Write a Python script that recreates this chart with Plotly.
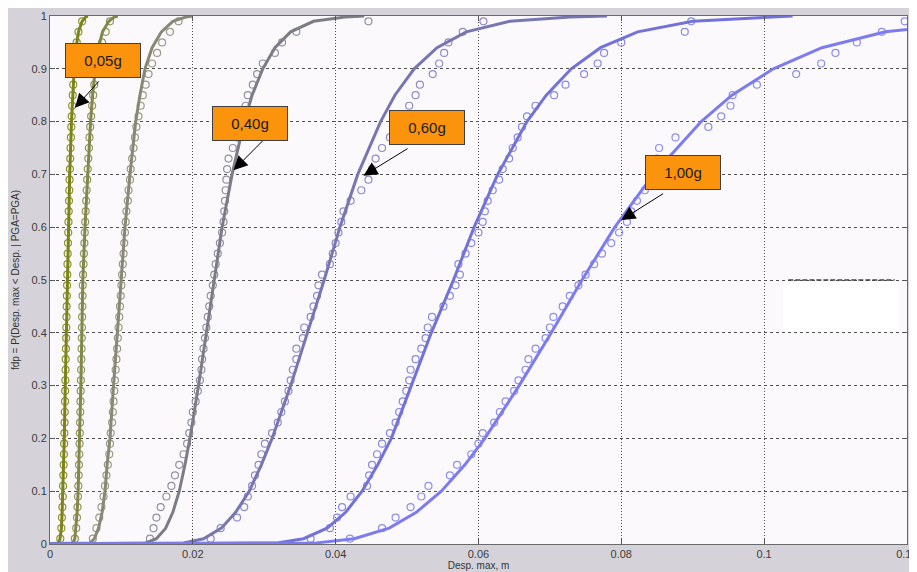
import plotly.graph_objects as go

# ---------------- data ----------------
# probability levels of the fitted CDF lines
P_LINE = [0, 0.002, 0.01, 0.03, 0.06, 0.1, 0.15, 0.2, 0.3, 0.4, 0.5,
          0.6, 0.7, 0.8, 0.85, 0.9, 0.94, 0.97, 0.99, 0.998, 1.0]

# fitted CDF lines: displacement (m) at each level of P_LINE
LINE_005 = [0, 0.0012, 0.0014, 0.0016, 0.0017, 0.0018, 0.0019, 0.0020, 0.00214, 0.00227, 0.0024,
            0.00257, 0.00276, 0.00301, 0.00318, 0.00339, 0.00365, 0.00399, 0.0045, 0.0050, 0.0053]
LINE_010 = [0, 0.0032, 0.00348, 0.00365, 0.0038, 0.00394, 0.00405, 0.00416, 0.00432, 0.00446, 0.0046,
            0.0049, 0.00524, 0.00568, 0.00597, 0.00634, 0.00678, 0.00736, 0.00823, 0.0090, 0.0095]
LINE_020 = [0, 0.0056, 0.0062, 0.0068, 0.0073, 0.0077, 0.0080, 0.0084, 0.0089, 0.0094, 0.0099,
            0.0105, 0.0112, 0.0120, 0.0126, 0.0133, 0.0143, 0.0156, 0.0172, 0.0190, 0.0200]
LINE_040 = [0, 0.0134, 0.0149, 0.0162, 0.0172, 0.0181, 0.0189, 0.0196, 0.0208, 0.0219, 0.0229,
            0.0241, 0.0255, 0.0272, 0.0283, 0.0298, 0.0315, 0.0337, 0.0369, 0.0413, 0.0440]
LINE_060 = [0, 0.0187, 0.0215, 0.0240, 0.0260, 0.0279, 0.0296, 0.0311, 0.0337, 0.0361, 0.0384,
            0.0406, 0.0431, 0.0463, 0.0483, 0.0510, 0.0542, 0.0583, 0.0644, 0.0728, 0.0780]
LINE_080 = [0, 0.0318, 0.0355, 0.0388, 0.0414, 0.0437, 0.0459, 0.0478, 0.0506, 0.0534, 0.0565,
            0.0594, 0.0627, 0.0668, 0.0695, 0.0730, 0.0771, 0.0823, 0.0900, 0.1005, 0.1040]
LINE_100 = [0, 0.0373, 0.0426, 0.0475, 0.0513, 0.0548, 0.0581, 0.0609, 0.0657, 0.0702, 0.0745,
            0.0791, 0.0845, 0.0912, 0.0955, 0.1013, 0.1081, 0.1170, 0.1302, 0.1480, 0.1600]

# empirical CDF points (open circles): probability levels
P_MARK = [0.01, 0.03, 0.05, 0.07, 0.09, 0.11, 0.13, 0.15, 0.17, 0.19,
          0.21, 0.23, 0.25, 0.27, 0.29, 0.31, 0.33, 0.35, 0.37, 0.39,
          0.41, 0.43, 0.45, 0.47, 0.49, 0.51, 0.53, 0.55, 0.57, 0.59,
          0.61, 0.63, 0.65, 0.67, 0.69, 0.71, 0.73, 0.75, 0.77, 0.79,
          0.81, 0.83, 0.85, 0.87, 0.89, 0.91, 0.93, 0.95, 0.97, 0.99]

MARK_005 = [0.00144, 0.00159, 0.00167, 0.00173, 0.00179, 0.00183, 0.00187, 0.00191, 0.00195, 0.00198,
            0.00201, 0.00204, 0.00207, 0.00210, 0.00212, 0.00215, 0.00218, 0.00220, 0.00223, 0.00226,
            0.00228, 0.00231, 0.00233, 0.00236, 0.00239, 0.00242, 0.00245, 0.00248, 0.00252, 0.00255,
            0.00259, 0.00262, 0.00266, 0.00270, 0.00274, 0.00279, 0.00283, 0.00288, 0.00293, 0.00298,
            0.00304, 0.00310, 0.00318, 0.00325, 0.00334, 0.00345, 0.00358, 0.00374, 0.00399, 0.00450]
MARK_010 = [0.00348, 0.00367, 0.00378, 0.00385, 0.00392, 0.00397, 0.00402, 0.00406, 0.00410, 0.00414,
            0.00418, 0.00421, 0.00424, 0.00427, 0.00430, 0.00433, 0.00436, 0.00439, 0.00442, 0.00445,
            0.00448, 0.00450, 0.00453, 0.00456, 0.00459, 0.00463, 0.00469, 0.00475, 0.00481, 0.00487,
            0.00493, 0.00500, 0.00506, 0.00513, 0.00521, 0.00528, 0.00536, 0.00545, 0.00553, 0.00563,
            0.00576, 0.00590, 0.00605, 0.00620, 0.00640, 0.00660, 0.00690, 0.00730, 0.00780, 0.00840]
MARK_020 = [0.0060, 0.0065, 0.0069, 0.0072, 0.0075, 0.0077, 0.0079, 0.0081, 0.0083, 0.0084,
            0.0085, 0.0087, 0.0088, 0.0089, 0.0090, 0.0091, 0.0092, 0.0093, 0.0094, 0.0095,
            0.0096, 0.0097, 0.0098, 0.0099, 0.0100, 0.0101, 0.0102, 0.0103, 0.0104, 0.0105,
            0.0106, 0.0107, 0.0109, 0.0110, 0.0112, 0.0113, 0.0115, 0.0117, 0.0119, 0.0121,
            0.0124, 0.0127, 0.0130, 0.0134, 0.0138, 0.0143, 0.0150, 0.0157, 0.0168, 0.0180]
MARK_040 = [0.0140, 0.0145, 0.0149, 0.0155, 0.0163, 0.0170, 0.0175, 0.0181, 0.0187, 0.0192,
            0.0195, 0.0198, 0.0200, 0.0204, 0.0207, 0.0210, 0.0212, 0.0213, 0.0215, 0.0217,
            0.0219, 0.0221, 0.0223, 0.0225, 0.0228, 0.0230, 0.0232, 0.0235, 0.0238, 0.0241,
            0.0243, 0.0244, 0.0245, 0.0246, 0.0247, 0.0248, 0.0250, 0.0256, 0.0262, 0.0266,
            0.0270, 0.0274, 0.0277, 0.0284, 0.0290, 0.0298, 0.0315, 0.0325, 0.0345, 0.0446]
MARK_060 = [0.0225, 0.0239, 0.0262, 0.0272, 0.0277, 0.0283, 0.0287, 0.0292, 0.0296, 0.0301,
            0.0311, 0.0319, 0.0324, 0.0329, 0.0334, 0.0337, 0.0340, 0.0345, 0.0345, 0.0354,
            0.0356, 0.0365, 0.0369, 0.0374, 0.0376, 0.0381, 0.0392, 0.0396, 0.0400, 0.0404,
            0.0408, 0.0411, 0.0421, 0.0436, 0.0446, 0.0451, 0.0456, 0.0465, 0.0476, 0.0488,
            0.0498, 0.0503, 0.0512, 0.0518, 0.0536, 0.0545, 0.0552, 0.0558, 0.0578, 0.0607]
MARK_080 = [0.0365, 0.0392, 0.0402, 0.0409, 0.0421, 0.0444, 0.0447, 0.0451, 0.0458, 0.0465,
            0.0476, 0.0484, 0.0489, 0.0494, 0.0499, 0.0503, 0.0505, 0.0512, 0.0520, 0.0526,
            0.0529, 0.0535, 0.0551, 0.0560, 0.0568, 0.0574, 0.0572, 0.0582, 0.0590, 0.0600,
            0.0606, 0.0609, 0.0613, 0.0620, 0.0629, 0.0634, 0.0643, 0.0648, 0.0655, 0.0661,
            0.0668, 0.0680, 0.0706, 0.0722, 0.0748, 0.0767, 0.0776, 0.0800, 0.0889, 0.0898]
MARK_100 = [0.0420, 0.0465, 0.0484, 0.0505, 0.0520, 0.0530, 0.0560, 0.0570, 0.0590, 0.0600,
            0.0606, 0.0622, 0.0630, 0.0638, 0.0650, 0.0656, 0.0666, 0.0670, 0.0680, 0.0694,
            0.0700, 0.0705, 0.0718, 0.0728, 0.0740, 0.0750, 0.0762, 0.0773, 0.0786, 0.0797,
            0.0808, 0.0814, 0.0822, 0.0833, 0.0840, 0.0844, 0.0850, 0.0853, 0.0876, 0.0922,
            0.0940, 0.0953, 0.0956, 0.0990, 0.1045, 0.1080, 0.1100, 0.1130, 0.1165, 0.1197]

# annotated curves: label, arrow tip (displacement, probability)
ANNOT_TEXT = ["0,05g", "0,40g", "0,60g", "1,00g"]
ANNOT_TIP_X = [0.0035, 0.0257, 0.0439, 0.0800]
ANNOT_TIP_P = [0.826, 0.708, 0.6975, 0.6136]

X_TICKS = [0, 0.02, 0.04, 0.06, 0.08, 0.1, 0.12]
Y_TICKS = [0, 0.1, 0.2, 0.3, 0.4, 0.5, 0.6, 0.7, 0.8, 0.9, 1]

# ---------------- styling ----------------
curves = [
    (LINE_005, MARK_005, "#7b8419", "#8f9632"),
    (LINE_010, MARK_010, "#83874a", "#959860"),
    (LINE_020, MARK_020, "#888874", "#9a9a88"),
    (LINE_040, MARK_040, "#7c7c86", "#9191a2"),
    (LINE_060, MARK_060, "#7876b0", "#8e8cc8"),
    (LINE_080, MARK_080, "#7272d8", "#8a8ae0"),
    (LINE_100, MARK_100, "#7c7cf0", "#8e8eec"),
]

fig = go.Figure()
for line_x, mark_x, lc, mc in curves:
    fig.add_trace(go.Scatter(
        x=mark_x, y=P_MARK, mode="markers",
        marker=dict(symbol="circle-open", size=7, color=mc, line=dict(width=1.2, color=mc)),
        hoverinfo="skip"))
    fig.add_trace(go.Scatter(
        x=line_x, y=P_LINE, mode="lines",
        line=dict(color=lc, width=3), hoverinfo="skip"))

# label boxes (center positions in data coordinates) and arrow starts
box_pos = [(0.00737, 0.9148), (0.0280, 0.7968), (0.0528, 0.7884), (0.08866, 0.704)]
arrow_start = [(0.00702, 0.879), (0.0306, 0.7746), (0.05029, 0.7506), (0.08608, 0.6653)]

for txt, tx, tp, (bx, by), (sx, sy) in zip(ANNOT_TEXT, ANNOT_TIP_X, ANNOT_TIP_P, box_pos, arrow_start):
    fig.add_annotation(x=tx, y=tp, ax=sx, ay=sy, axref="x", ayref="y", xref="x", yref="y",
                       text="", showarrow=True, arrowhead=2, arrowsize=2.8, arrowwidth=1,
                       arrowcolor="#000000", standoff=0, startstandoff=0)
    fig.add_annotation(x=bx, y=by, xref="x", yref="y", text=txt, showarrow=False,
                       font=dict(family="Liberation Sans, Arial", size=15, color="#1a1a1a"),
                       bgcolor="#fb940c", bordercolor="#404040", borderwidth=1, borderpad=1,
                       width=72, height=31, align="center", valign="middle")

# white patch at the right side and its dark dashed edge
fig.add_shape(type="rect", x0=0.1027, x1=0.1188, y0=0.402, y1=0.497,
              xref="x", yref="y", fillcolor="#ffffff", line=dict(width=0), layer="above")
fig.add_shape(type="line", x0=0.1034, x1=0.1183, y0=0.5, y1=0.5, xref="x", yref="y",
              line=dict(color="#444444", width=1.5, dash="5px,2px"), layer="above")

axis_common = dict(showline=True, linecolor="#6a6a6a", linewidth=1, mirror="ticks",
                   ticks="inside", ticklen=5, tickcolor="#555555", zeroline=False,
                   showgrid=True, gridcolor="#505050", gridwidth=1,
                   ticklabeloverflow="allow",
                   tickfont=dict(family="Liberation Sans, Arial", size=11, color="#3a3a3a"))

fig.update_xaxes(range=[0, 0.12002], tickvals=X_TICKS, ticktext=[str(v) for v in X_TICKS],
                 griddash="1px,2px",
                 title=dict(text="Desp. max, m", standoff=0,
                            font=dict(family="Liberation Sans, Arial", size=10, color="#333333")),
                 **axis_common)
fig.update_yaxes(range=[0, 1], tickvals=Y_TICKS, ticktext=[str(v) for v in Y_TICKS],
                 griddash="3px,3px",
                 title=dict(text="fdp = P(Desp. max < Desp. | PGA=PGA)", standoff=10,
                            font=dict(family="Liberation Sans, Arial", size=10, color="#333333")),
                 **axis_common)

# the page adds an 8 px body margin, so the figure is sized to fill the rest of the window
fig.update_layout(width=909, height=564, margin=dict(l=42, r=10, t=8, b=28, autoexpand=False),
                  paper_bgcolor="#d5d3d9", plot_bgcolor="#fcf9fc", showlegend=False,
                  font=dict(family="Liberation Sans, Arial", size=11, color="#333333"))

fig.write_html("out.html")
